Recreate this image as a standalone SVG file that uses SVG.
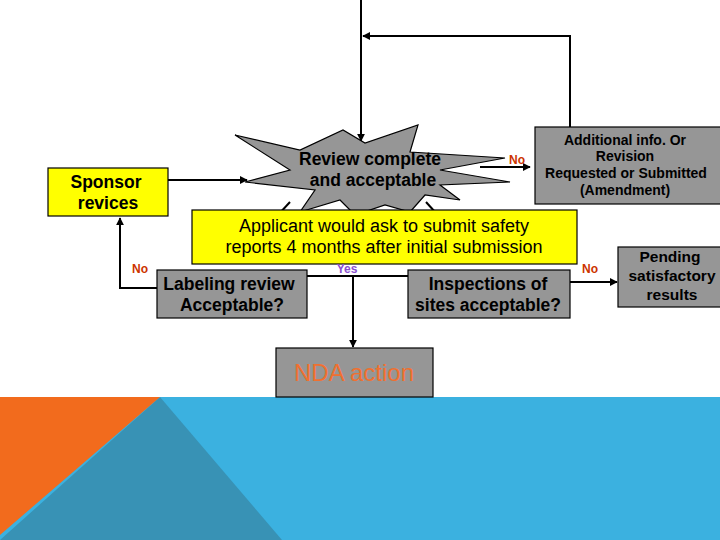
<svg xmlns="http://www.w3.org/2000/svg" width="720" height="540" viewBox="0 0 720 540">
<style>
.box{fill:#969696;stroke:#000;stroke-width:1.2}
.ybox{fill:#ffff00;stroke:#000;stroke-width:1.2}
.t{font-family:"Liberation Sans",Arial,sans-serif;text-anchor:middle;fill:#000}
.b{font-weight:bold}
.ln{fill:none;stroke:#000;stroke-width:2}
.no{font-family:"Liberation Sans",Arial,sans-serif;font-weight:bold;font-size:12px;fill:#cc3300;text-anchor:middle}
</style>
<defs>
<marker id="ah" viewBox="0 0 10 10" refX="9" refY="5" markerWidth="4" markerHeight="4" orient="auto-start-reverse"><path d="M0,0 L10,5 L0,10 z" fill="#000"/></marker>
</defs>
<rect width="720" height="540" fill="#fff"/>
<g id="background">
<rect x="0" y="397" width="720" height="143" fill="#3bb1e0"/>
<polygon points="160,397 282,540 0,540" fill="#3892b5"/>
<polygon points="0,397 160,397 0,535" fill="#f26b1d"/>
</g>
<g id="connectors">
<polyline class="ln" points="570,127 570,36 363,36" marker-end="url(#ah)"/>
<line class="ln" x1="361" y1="0" x2="361" y2="141" marker-end="url(#ah)"/>
<line class="ln" x1="168" y1="180" x2="247" y2="180" marker-end="url(#ah)"/>
<line class="ln" x1="480" y1="167" x2="530" y2="167" marker-end="url(#ah)"/>
<polyline class="ln" points="157,288 120,288 120,218" marker-end="url(#ah)"/>
<line class="ln" x1="290" y1="202" x2="250" y2="245"/>
<line class="ln" x1="426" y1="202" x2="465" y2="245"/>
<line class="ln" x1="307" y1="276" x2="408" y2="276"/>
<line class="ln" x1="353" y1="276" x2="353" y2="347" marker-end="url(#ah)"/>
<line class="ln" x1="570" y1="282" x2="617" y2="282" marker-end="url(#ah)"/>
</g>
<g id="review">
<polygon class="box" points="235,135 300,150 343,130 365,143 418,125 410,152 505,158 440,170 510,182 440,185 460,200 425,195 410,212 385,205 355,215 340,200 300,212 315,190 245,182 290,170"/>
<text class="t b" x="370" y="165" font-size="17.5">Review complete</text>
<text class="t b" x="373" y="186" font-size="17.5">and acceptable</text>
</g>
<text class="no" x="517" y="164">No</text>
<g id="additional">
<rect class="box" x="535" y="127" width="190" height="77"/>
<text class="t b" x="625" y="145" font-size="14">Additional info. Or</text>
<text class="t b" x="625" y="161" font-size="14">Revision</text>
<text class="t b" x="626" y="178" font-size="14">Requested or Submitted</text>
<text class="t b" x="625" y="195" font-size="14">(Amendment)</text>
</g>
<g id="sponsor">
<rect class="ybox" x="48" y="168" width="120" height="48"/>
<text class="t b" x="106" y="188" font-size="17.5">Sponsor</text>
<text class="t b" x="108" y="209" font-size="17.5">revices</text>
</g>
<g id="applicant">
<rect class="ybox" x="192" y="210" width="385" height="54"/>
<text class="t" x="384" y="232" font-size="18">Applicant would ask to submit safety</text>
<text class="t" x="384" y="253" font-size="18">reports 4 months after initial submission</text>
</g>
<text class="no" x="140" y="273">No</text>
<text x="347" y="273" font-family="Liberation Sans,Arial,sans-serif" font-weight="bold" font-size="12" fill="#8a4fd0" text-anchor="middle">Yes</text>
<text class="no" x="590" y="273">No</text>
<g id="labeling">
<rect class="box" x="157" y="270" width="150" height="48"/>
<text class="t b" x="229" y="290" font-size="17.5">Labeling review</text>
<text class="t b" x="232" y="311" font-size="17.5">Acceptable?</text>
</g>
<g id="inspections">
<rect class="box" x="408" y="270" width="162" height="48"/>
<text class="t b" x="488" y="290" font-size="17.5">Inspections of</text>
<text class="t b" x="488" y="311" font-size="17.5">sites acceptable?</text>
</g>
<g id="pending">
<rect class="box" x="618" y="247" width="107" height="60"/>
<text class="t b" x="670" y="262" font-size="15.5">Pending</text>
<text class="t b" x="672" y="281" font-size="15.5">satisfactory</text>
<text class="t b" x="672" y="300" font-size="15.5">results</text>
</g>
<g id="nda">
<rect class="box" x="276" y="348" width="157" height="49"/>
<text class="t" x="354" y="381" font-size="24" style="fill:#f07030">NDA action</text>
</g>
</svg>
